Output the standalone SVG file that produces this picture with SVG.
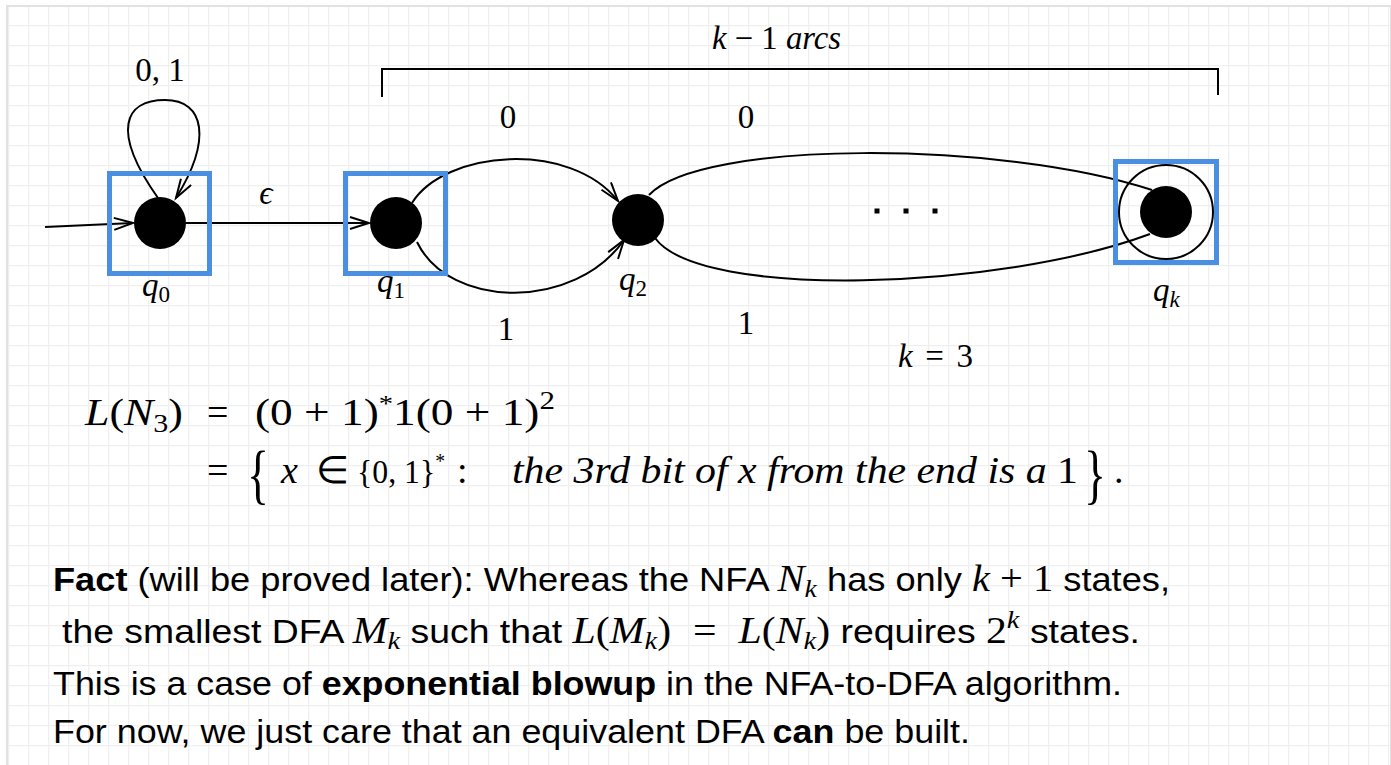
<svg xmlns="http://www.w3.org/2000/svg" width="1391" height="765" viewBox="0 0 1391 765">
<style>
.edge{fill:none;stroke:#000;stroke-width:2}
.box{fill:none;stroke:#4A8FE1;stroke-width:5}
.lbl{font-family:"Liberation Serif",serif;font-size:33px;fill:#000}
.it{font-style:italic}
.eq{font-family:"Liberation Serif",serif;font-size:38px;fill:#000}
.big{font-size:66px}
.txt{font-family:"Liberation Sans",Arial,sans-serif;font-size:34px;fill:#000}
.m{font-family:"Liberation Serif",serif;font-style:italic}
.b{font-weight:bold}
</style>
<defs>
<pattern id="grid" width="20" height="20" patternUnits="userSpaceOnUse" x="8" y="5">
<path d="M0,0 V20 M0,0 H20" fill="none" stroke="#efefef" stroke-width="2.5"/>
</pattern>
<marker id="arr" markerWidth="24" markerHeight="16" refX="20" refY="7" orient="auto" markerUnits="userSpaceOnUse">
<path d="M1,1 L20,7 L1,13" fill="none" stroke="#000" stroke-width="2"/>
</marker>
</defs>
<rect x="7" y="6" width="1384" height="770" fill="#fff" stroke="#e2e2e2" stroke-width="2"/>
<rect x="8" y="7" width="1382" height="760" fill="url(#grid)"/>

<g id="connectors">
<path class="edge" d="M45,227 L133,223" marker-end="url(#arr)"/>
<path class="edge" d="M158,198 C110,130 125,100 165,100 C205,100 212,140 176,198" marker-end="url(#arr)"/>
<path class="edge" d="M186,223 L369,223" marker-end="url(#arr)"/>
<path class="edge" d="M412,203 C445,150 570,140 618,201" marker-end="url(#arr)"/>
<path class="edge" d="M417,242 C450,310 575,310 624,240" marker-end="url(#arr)"/>
<path class="edge" d="M649,195 C700,140 1000,140 1152,190"/>
<path class="edge" d="M655,238 C700,300 1000,290 1150,234"/>
</g>

<g id="q0">
<circle cx="160" cy="223" r="26" fill="#000"/>
<rect class="box" x="109.5" y="173.5" width="100" height="100"/>
<text class="lbl" x="142" y="296"><tspan class="it">q</tspan><tspan font-size="23" dy="6">0</tspan></text>
</g>
<g id="q1">
<circle cx="396" cy="223" r="26" fill="#000"/>
<rect class="box" x="345.5" y="173.5" width="100" height="100"/>
<text class="lbl" x="377" y="292"><tspan class="it">q</tspan><tspan font-size="23" dy="6">1</tspan></text>
</g>
<g id="q2">
<circle cx="638" cy="220" r="26" fill="#000"/>
<text class="lbl" x="619" y="290"><tspan class="it">q</tspan><tspan font-size="23" dy="6">2</tspan></text>
</g>
<g id="qk">
<circle cx="1166" cy="212" r="47" fill="none" stroke="#000" stroke-width="2"/>
<circle cx="1166" cy="212" r="26" fill="#000"/>
<rect class="box" x="1115.5" y="161.5" width="101" height="101"/>
<text class="lbl" x="1153" y="301"><tspan class="it">q</tspan><tspan class="it" font-size="23" dy="6">k</tspan></text>
</g>

<g id="labels">
<text class="lbl" x="160" y="81" text-anchor="middle">0, 1</text>
<text class="lbl it" x="266" y="204" text-anchor="middle">ϵ</text>
<text class="lbl" x="508" y="128" text-anchor="middle">0</text>
<text class="lbl" x="506" y="340" text-anchor="middle">1</text>
<text class="lbl" x="746" y="128" text-anchor="middle">0</text>
<text class="lbl" x="746" y="334" text-anchor="middle">1</text>
<text class="lbl" x="712" y="49" textLength="129" lengthAdjust="spacingAndGlyphs"><tspan class="it">k</tspan> − 1 <tspan class="it">arcs</tspan></text>
<text class="lbl" x="898" y="367" textLength="75" lengthAdjust="spacing"><tspan class="it">k</tspan> = 3</text>
</g>
<g id="dots" fill="#000">
<rect x="874.5" y="208.5" width="5" height="5"/>
<rect x="903.5" y="208.5" width="5" height="5"/>
<rect x="932.5" y="208.5" width="5" height="5"/>
</g>
<path id="bracket" d="M382,97 V69 H1218 V95" fill="none" stroke="#000" stroke-width="2"/>

<g id="equation">
<text class="eq" x="85" y="425" textLength="98" lengthAdjust="spacingAndGlyphs"><tspan class="it">L</tspan>(<tspan class="it">N</tspan><tspan font-size="26" dy="7">3</tspan><tspan dy="-7">)</tspan></text>
<text class="eq" x="207" y="425">=</text>
<text class="eq" x="255" y="425" textLength="300" lengthAdjust="spacingAndGlyphs">(0 + 1)<tspan font-size="24" dy="-14">*</tspan><tspan dy="14">1(0 + 1)</tspan><tspan font-size="26" dy="-16">2</tspan></text>
<text class="eq" x="207" y="483">=</text>
<text class="eq big" x="247" y="496" textLength="22" lengthAdjust="spacingAndGlyphs">{</text>
<text class="eq it" x="281" y="483">x</text>
<text class="eq" x="316" y="483">∈</text>
<text class="eq" x="357" y="483" style="font-size:34px" textLength="88" lengthAdjust="spacingAndGlyphs">{0, 1}<tspan font-size="21" dy="-15">*</tspan></text>
<text class="eq" x="457" y="483">:</text>
<text class="eq it" x="512" y="483" textLength="566" lengthAdjust="spacingAndGlyphs">the 3rd bit of x from the end is a <tspan font-style="normal">1</tspan></text>
<text class="eq big" x="1084" y="496" textLength="22" lengthAdjust="spacingAndGlyphs">}</text>
<text class="eq" x="1114" y="483">.</text>
</g>

<g id="fact">
<text class="txt" x="53" y="591" textLength="1117" lengthAdjust="spacingAndGlyphs"><tspan class="b">Fact</tspan> (will be proved later): Whereas the NFA <tspan class="m" font-size="38">N</tspan><tspan class="m" font-size="26" dy="6">k</tspan><tspan dy="-6"> has only </tspan><tspan class="m" font-size="38">k</tspan><tspan font-family="Liberation Serif" font-size="38"> + 1</tspan> states,</text>
<text class="txt" x="62" y="643" textLength="1078" lengthAdjust="spacingAndGlyphs">the smallest DFA <tspan class="m" font-size="38">M</tspan><tspan class="m" font-size="26" dy="6">k</tspan><tspan dy="-6"> such that </tspan><tspan class="m" font-size="38">L</tspan><tspan font-family="Liberation Serif" font-size="38">(</tspan><tspan class="m" font-size="38">M</tspan><tspan class="m" font-size="26" dy="6">k</tspan><tspan font-family="Liberation Serif" font-size="38" dy="-6">)</tspan><tspan font-family="Liberation Serif" font-size="38" dx="20">=</tspan><tspan class="m" font-size="38" dx="20">L</tspan><tspan font-family="Liberation Serif" font-size="38">(</tspan><tspan class="m" font-size="38">N</tspan><tspan class="m" font-size="26" dy="6">k</tspan><tspan font-family="Liberation Serif" font-size="38" dy="-6">)</tspan> requires <tspan font-family="Liberation Serif" font-size="38">2</tspan><tspan class="m" font-size="26" dy="-15">k</tspan><tspan dy="15"> states.</tspan></text>
<text class="txt" x="53" y="695" textLength="1069" lengthAdjust="spacingAndGlyphs">This is a case of <tspan class="b">exponential blowup</tspan> in the NFA-to-DFA algorithm.</text>
<text class="txt" x="53" y="743" textLength="917" lengthAdjust="spacingAndGlyphs">For now, we just care that an equivalent DFA <tspan class="b">can</tspan> be built.</text>
</g>
</svg>
